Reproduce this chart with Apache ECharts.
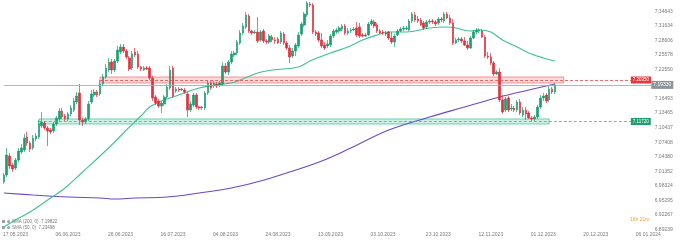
<!DOCTYPE html>
<html><head><meta charset="utf-8">
<script src="https://cdn.jsdelivr.net/npm/echarts@6/dist/echarts.min.js"></script>
<style>html,body{margin:0;padding:0;background:#fff}#c{width:686px;height:241px}</style>
</head><body><div id="c"></div>
<script>
const opens = [6.9913,7.0059,7.0454,7.0267,7.0205,7.0371,7.0537,7.0579,7.0849,7.0725,
7.0621,7.0808,7.0849,7.1078,7.1141,7.1037,7.0995,7.0974,7.1120,7.1224,
7.1390,7.1286,7.1224,7.1328,7.1411,7.1577,7.1765,7.1203,7.1161,7.1224,
7.1577,7.1723,7.1785,7.1744,7.1952,7.2097,7.2243,7.2409,7.2243,7.2430,
7.2617,7.2721,7.2638,7.2493,7.2285,7.2617,7.2576,7.2305,7.2243,7.2285,
7.2285,7.2077,7.1681,7.1598,7.1494,7.1536,7.1681,7.1869,7.2285,7.1806,
7.1848,7.1827,7.1827,7.1744,7.1411,7.1515,7.1723,7.1473,7.1453,7.1453,
7.1765,7.1973,7.1910,7.1952,7.1931,7.1952,7.2326,7.2201,7.2409,7.2555,
7.2597,7.2805,7.3013,7.3137,7.3366,7.3054,7.3013,7.3033,7.2867,7.3054,
7.2846,7.2825,7.2929,7.2867,7.2888,7.2825,7.2992,7.2805,7.2701,7.2534,
7.2638,7.2742,7.2992,7.3179,7.3387,7.3616,7.3595,7.3033,7.3013,7.2867,
7.2763,7.2742,7.2763,7.2950,7.3033,7.3054,7.3096,7.3158,7.3013,7.3054,
7.3075,7.3117,7.3137,7.2971,7.2950,7.2971,7.3200,7.3241,7.3179,7.3054,
7.3033,7.3013,7.3033,7.2909,7.2825,7.2971,7.3054,7.3096,7.3096,7.3075,
7.3262,7.3387,7.3304,7.3283,7.3221,7.3137,7.3241,7.3262,7.3241,7.3221,
7.3304,7.3262,7.3408,7.3325,7.3221,7.2805,7.2867,7.2888,7.2846,7.2763,
7.2701,7.2909,7.3033,7.3054,7.3054,7.2929,7.2534,7.2513,7.2389,7.2160,
7.2201,7.1619,7.1411,7.1661,7.1432,7.1453,7.1411,7.1577,7.1307,7.1411,
7.1349,7.1245,7.1224,7.1265,7.1473,7.1661,7.1723,7.1619,7.1848,7.1785];
const closes = [7.0059,7.0475,7.0246,7.0184,7.0371,7.0558,7.0621,7.0829,7.0725,7.0600,
7.0829,7.0870,7.1120,7.1161,7.1037,7.0974,7.0953,7.1120,7.1245,7.1390,
7.1265,7.1224,7.1328,7.1453,7.1598,7.1702,7.1203,7.1161,7.1224,7.1536,
7.1744,7.1785,7.1723,7.1952,7.2097,7.2285,7.2409,7.2243,7.2430,7.2659,
7.2721,7.2638,7.2513,7.2264,7.2576,7.2555,7.2305,7.2264,7.2285,7.2264,
7.2077,7.1661,7.1557,7.1494,7.1557,7.1681,7.1889,7.2243,7.1702,7.1848,
7.1827,7.1848,7.1785,7.1411,7.1536,7.1723,7.1473,7.1453,7.1473,7.1765,
7.1973,7.1869,7.1973,7.1910,7.1973,7.2326,7.2201,7.2409,7.2576,7.2597,
7.2825,7.3013,7.3158,7.3387,7.3054,7.3013,7.3033,7.2846,7.3033,7.2846,
7.2825,7.2950,7.2867,7.2846,7.2805,7.3013,7.2805,7.2701,7.2513,7.2638,
7.2763,7.2971,7.3200,7.3408,7.3637,7.3595,7.3033,7.2992,7.2867,7.2742,
7.2701,7.2784,7.2950,7.3054,7.3075,7.3117,7.3158,7.3013,7.3054,7.3075,
7.3096,7.2971,7.2950,7.2950,7.2971,7.3200,7.3262,7.3158,7.3054,7.3013,
7.3013,7.2992,7.2909,7.2825,7.2950,7.3054,7.3096,7.3117,7.3117,7.3262,
7.3408,7.3283,7.3262,7.3179,7.3117,7.3241,7.3262,7.3241,7.3200,7.3304,
7.3283,7.3408,7.3325,7.3221,7.2805,7.2867,7.2888,7.2846,7.2763,7.2701,
7.2909,7.3033,7.3075,7.3075,7.2929,7.2534,7.2513,7.2389,7.2160,7.2201,
7.1619,7.1369,7.1640,7.1411,7.1453,7.1411,7.1577,7.1349,7.1411,7.1328,
7.1245,7.1224,7.1265,7.1473,7.1661,7.1702,7.1598,7.1848,7.1785,7.1933];
const lows = [6.9872,7.0017,7.0184,7.0121,7.0163,7.0329,7.0496,7.0537,7.0662,7.0537,
7.0579,7.0766,7.0808,7.1037,7.0995,7.0662,7.0912,7.0933,7.1078,7.1182,
7.1224,7.1182,7.1182,7.1286,7.1369,7.1536,7.1099,7.1078,7.1120,7.1182,
7.1536,7.1681,7.1681,7.1702,7.1910,7.2056,7.2201,7.2160,7.2201,7.2389,
7.2576,7.2597,7.2472,7.2222,7.2243,7.2513,7.2264,7.2222,7.2222,7.2243,
7.2035,7.1598,7.1515,7.1453,7.1349,7.1494,7.1640,7.1827,7.1661,7.1765,
7.1785,7.1806,7.1744,7.1265,7.1369,7.1473,7.1432,7.1411,7.1411,7.1411,
7.1723,7.1827,7.1869,7.1869,7.1889,7.1910,7.2160,7.2139,7.2368,7.2513,
7.2555,7.2763,7.2971,7.3096,7.3013,7.2971,7.2992,7.2805,7.2825,7.2805,
7.2784,7.2784,7.2825,7.2784,7.2784,7.2784,7.2763,7.2659,7.2389,7.2493,
7.2534,7.2701,7.2950,7.3137,7.3345,7.3553,7.2992,7.2950,7.2825,7.2701,
7.2659,7.2701,7.2721,7.2909,7.2992,7.3013,7.3054,7.2971,7.2971,7.3013,
7.3054,7.2929,7.2909,7.2929,7.2929,7.2950,7.3158,7.3117,7.3013,7.2992,
7.2971,7.2950,7.2867,7.2784,7.2721,7.2950,7.3033,7.3054,7.3075,7.3054,
7.3221,7.3241,7.3221,7.3158,7.3075,7.3096,7.3200,7.3200,7.3158,7.3179,
7.3241,7.3221,7.3304,7.3179,7.2763,7.2784,7.2825,7.2805,7.2742,7.2659,
7.2680,7.2888,7.2992,7.3013,7.2909,7.2493,7.2472,7.2347,7.2118,7.2139,
7.1577,7.1328,7.1369,7.1369,7.1390,7.1369,7.1369,7.1307,7.1265,7.1203,
7.1224,7.1182,7.1182,7.1224,7.1432,7.1598,7.1557,7.1577,7.1744,7.1744];
const highs = [7.0101,7.0621,7.0517,7.0309,7.0413,7.0621,7.0704,7.0912,7.0953,7.0766,
7.0891,7.0933,7.1203,7.1369,7.1182,7.1078,7.1037,7.1161,7.1286,7.1453,
7.1453,7.1328,7.1369,7.1515,7.1661,7.1785,7.1952,7.1245,7.1265,7.1598,
7.1827,7.1848,7.1827,7.2035,7.2160,7.2368,7.2493,7.2472,7.2472,7.2742,
7.2784,7.2784,7.2680,7.2534,7.2638,7.2701,7.2638,7.2326,7.2326,7.2326,
7.2326,7.2118,7.1723,7.1640,7.1598,7.1723,7.1952,7.2326,7.2326,7.1889,
7.1889,7.1869,7.1869,7.1785,7.1598,7.1765,7.1765,7.1494,7.1494,7.1806,
7.2014,7.2014,7.2014,7.1993,7.2014,7.2409,7.2389,7.2451,7.2638,7.2638,
7.2867,7.3075,7.3221,7.3449,7.3408,7.3075,7.3075,7.3345,7.3075,7.3096,
7.2888,7.2992,7.2971,7.2929,7.2929,7.3054,7.3033,7.2846,7.2763,7.2701,
7.2805,7.3033,7.3241,7.3449,7.3678,7.3657,7.3637,7.3075,7.3054,7.3013,
7.2825,7.2867,7.2992,7.3096,7.3117,7.3158,7.3200,7.3200,7.3117,7.3117,
7.3137,7.3241,7.3221,7.3013,7.3013,7.3241,7.3304,7.3283,7.3221,7.3096,
7.3075,7.3054,7.3054,7.3033,7.2992,7.3096,7.3137,7.3158,7.3158,7.3304,
7.3449,7.3449,7.3366,7.3325,7.3262,7.3283,7.3304,7.3304,7.3283,7.3345,
7.3345,7.3449,7.3449,7.3387,7.3304,7.2909,7.2929,7.2929,7.2929,7.2846,
7.2950,7.3075,7.3117,7.3117,7.3096,7.2971,7.2617,7.2597,7.2430,7.2243,
7.2285,7.1723,7.1681,7.1702,7.1536,7.1494,7.1619,7.1640,7.1473,7.1473,
7.1390,7.1286,7.1307,7.1515,7.1723,7.1765,7.1765,7.1910,7.1889,7.1973];

const sma50 = [[0,6.8977],[4,6.9123],[9,6.9289],[15,6.9539],[21,6.9789],[27,7.0121],[33,7.0454],
[38,7.0745],[42,7.0995],[47,7.1286],[50,7.1473],[54,7.1598],[58,7.1681],[67,7.1869],[78,7.1973],
[81,7.2035],[87,7.2181],[92,7.2243],[101,7.2305],[105,7.2430],[112,7.2597],[118,7.2721],[123,7.2867],
[128,7.2971],[132,7.3033],[138,7.3033],[146,7.3117],[152,7.3137],[155,7.3117],[160,7.3054],[163,7.3075],
[167,7.3033],[171,7.2867],[176,7.2721],[180,7.2597],[185,7.2493],[189,7.2430]];
const sma200 = [[0,6.9685],[10,6.9643],[22,6.9601],[33,6.9581],[38,6.9560],[45,6.9581],[56,6.9601],
[67,6.9685],[78,6.9789],[88,6.9934],[98,7.0121],[109,7.0350],[119,7.0621],[132,7.0995],[146,7.1265],
[158,7.1473],[170,7.1681],[180,7.1827],[189,7.1952]];

const xTickIndex = [4,22,40,58,76,94,112,130,149,167,185,203,221];
const xTickLabels = ['17.05.2023','06.06.2023','26.06.2023','16.07.2023','04.08.2023','24.08.2023',
'13.09.2023','03.10.2023','23.10.2023','12.11.2023','01.12.2023','20.12.2023','06.01.2024'];
const yTickValues = [6.89239,6.92267,6.95295,6.98324,7.01352,7.04380,7.07408,7.10437,7.13465,
7.16493,7.22550,7.25578,7.28606,7.31634,7.34643];

const redZone = [7.1973, 7.2097];
const greenZone = [7.1120, 7.1224];
const redLevel = 7.2035, greenLevel = 7.1172, lastPrice = 7.1933;
const redLabel = '7.20350', greenLabel = '7.11720', lastLabel = '7.19330';
const legendTexts = ['SMA (200, 0)  7.19822', 'SMA (50, 0)  7.23498'];
const timerText = '16h 21m';
const categoryCount = 229;

const categories = Array.from({length: categoryCount}, (_, i) => String(i));
const candles = opens.map((o, i) => [o, closes[i], lows[i], highs[i]]);
const tickMap = {};
xTickIndex.forEach((k, j) => { tickMap[k] = xTickLabels[j]; });

const UP = '#1c9f72', DOWN = '#e0323f';
const chart = echarts.init(document.getElementById('c'), null, {renderer: 'canvas'});
chart.setOption({
  animation: false,
  backgroundColor: '#ffffff',
  grid: {left: 1.5, right: 15.8, top: 0, bottom: 11.4, containLabel: false},
  xAxis: {
    type: 'category', data: categories, boundaryGap: true,
    axisLine: {show: false}, axisTick: {show: false}, splitLine: {show: false},
    axisLabel: {
      interval: (idx) => tickMap[idx] !== undefined,
      formatter: (v) => tickMap[Number(v)] || '',
      fontSize: 5, color: '#7a7a7a', margin: 3, fontFamily: 'Liberation Sans'
    }
  },
  yAxis: {
    type: 'value', position: 'right', offset: -17, scale: true,
    min: 6.8923, max: 7.3699,
    axisLine: {show: false}, axisTick: {show: false}, splitLine: {show: false},
    axisLabel: {
      customValues: yTickValues, formatter: (v) => v.toFixed(5),
      fontSize: 5, color: '#7a7a7a', margin: 1.5, fontFamily: 'Liberation Sans'
    }
  },
  graphic: [
    {type: 'rect', left: 2, top: 220, shape: {width: 3, height: 3}, style: {fill: '#9aa0a6'}},
    {type: 'circle', left: 7, top: 220, shape: {r: 1.5}, style: {fill: '#9aa0a6'}},
    {type: 'text', left: 12, top: 219.5, style: {text: legendTexts[0], fill: '#7a7a7a', font: '4.5px "Liberation Sans"'}},
    {type: 'rect', left: 2, top: 226, shape: {width: 3, height: 3}, style: {fill: '#9aa0a6'}},
    {type: 'circle', left: 7, top: 226, shape: {r: 1.5}, style: {fill: '#9aa0a6'}},
    {type: 'text', left: 12, top: 225.5, style: {text: legendTexts[1], fill: '#7a7a7a', font: '4.5px "Liberation Sans"'}},
    {type: 'text', left: 630, top: 217.5, style: {text: timerText, fill: '#f0a040', font: '5px "Liberation Sans"'}}
  ],
  series: [
    {
      type: 'line', data: [], z: 1, silent: true,
      markArea: {
        silent: true,
        data: [
          [{xAxis: 33, yAxis: redZone[0], itemStyle: {color: 'rgba(240,90,90,0.22)', borderColor: '#f07c7c', borderWidth: 0.8}},
           {xAxis: 192, yAxis: redZone[1]}],
          [{xAxis: 12, yAxis: greenZone[0], itemStyle: {color: 'rgba(40,190,140,0.22)', borderColor: '#4cc59a', borderWidth: 0.8}},
           {xAxis: 187, yAxis: greenZone[1]}]
        ]
      }
    },
    {
      type: 'line', data: sma200, smooth: 0.4, symbol: 'none', z: 3,
      lineStyle: {color: '#6d47c4', width: 1.1}
    },
    {
      type: 'line', data: sma50, smooth: 0.4, symbol: 'none', z: 3,
      lineStyle: {color: '#3fbf98', width: 1.1}
    },
    {
      type: 'candlestick', data: candles, barWidth: 2.1, z: 4,
      itemStyle: {color: UP, color0: DOWN, borderColor: UP, borderColor0: DOWN, borderWidth: 0.7},
      markLine: {
        silent: true, symbol: 'none', animation: false,
        data: [
          [{coord: [33, redLevel], lineStyle: {color: '#e0464b', type: [3, 2], width: 0.8},
            label: {show: true, position: 'end', distance: 0, formatter: redLabel, color: '#fff',
              backgroundColor: '#e0393e', padding: [1, 2], fontSize: 4.5, fontFamily: 'Liberation Sans'}},
           {coord: [215, redLevel]}],
          [{coord: [12, greenLevel], lineStyle: {color: '#3ab68a', type: [3, 2], width: 0.8},
            label: {show: true, position: 'end', distance: 0, formatter: greenLabel, color: '#fff',
              backgroundColor: '#1f9e6f', padding: [1, 2], fontSize: 4.5, fontFamily: 'Liberation Sans'}},
           {coord: [215, greenLevel]}],
          [{coord: [0, lastPrice], lineStyle: {color: '#a3a3a3', type: 'solid', width: 0.8},
            label: {show: true, position: 'end', distance: 0, formatter: lastLabel, color: '#fff',
              backgroundColor: '#8f949a', padding: [1.5, 2], fontSize: 5, fontFamily: 'Liberation Sans'}},
           {coord: [222, lastPrice]}]
        ]
      }
    }
  ]
});
</script></body></html>
